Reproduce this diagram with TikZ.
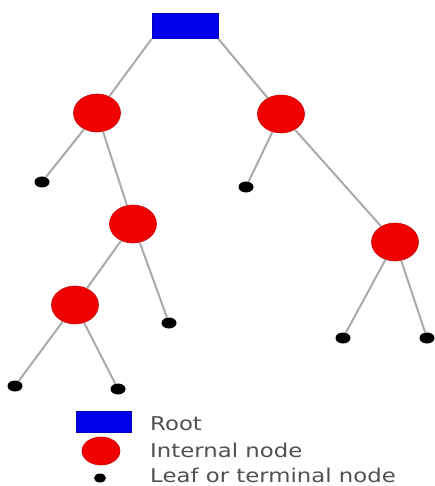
\documentclass[tikz,border=0pt]{standalone}
\usepackage{fontspec}
\setsansfont{DejaVu Sans}
\usetikzlibrary{positioning}
\usetikzlibrary{shapes.geometric}
\definecolor{rootblue}{RGB}{0,0,235}
\definecolor{nodered}{RGB}{240,0,0}
\definecolor{edgegray}{RGB}{170,170,170}
\definecolor{textgray}{RGB}{80,80,80}
\tikzset{
	rootnode/.style={
		rectangle,
		fill=rootblue,
		draw=rootblue!80!black,
		line width=.5pt,
		minimum width=66pt,
		minimum height=25pt,
		inner sep=0pt
	},
	internal/.style={
		ellipse,
		fill=nodered,
		draw=nodered!85!black,
		line width=.6pt,
		minimum width=47pt,
		minimum height=38pt,
		inner sep=0pt
	},
	leaf/.style={
		ellipse,
		fill=black,
		minimum width=15pt,
		minimum height=11pt,
		inner sep=0pt
	},
	edge/.style={
		draw=edgegray,
		line width=2pt
	},
	legendtext/.style={
		anchor=base west,
		inner sep=0pt,
		text=textgray,
		font=\sffamily\fontsize{19}{21}\selectfont,
		xscale=1.2,
		transform shape
	}
}

\begin{document}
\begin{tikzpicture}[x=1pt,y=1pt]
	\useasboundingbox (0,0) rectangle (434,-486);
	% tree
	\node[rootnode] (Root) at (185,-26) {};
	\node[internal] (IntA) at (97,-113) {};
	\node[internal] (IntB) at (281,-114) {};
	\node[internal] (IntC) at (133,-224) {};
	\node[internal] (IntD) at (395,-242) {};
	\node[internal] (IntE) at (75,-305) {};
	\node[leaf] (LeafA) at (42,-182) {};
	\node[leaf] (LeafB) at (246,-187) {};
	\node[leaf] (LeafC) at (169,-323) {};
	\node[leaf] (LeafD1) at (343,-338) {};
	\node[leaf] (LeafD2) at (427,-338) {};
	\node[leaf] (LeafE1) at (15,-386) {};
	\node[leaf] (LeafE2) at (118,-389) {};

	\draw[edge] (Root.south west) -- (IntA);
	\draw[edge] (Root.south east) -- (IntB);
	\draw[edge] (IntA) -- (LeafA);
	\draw[edge] (IntA) -- (IntC);
	\draw[edge] (IntB) -- (LeafB);
	\draw[edge] (IntB) -- (IntD);
	\draw[edge] (IntC) -- (IntE);
	\draw[edge] (IntC) -- (LeafC);
	\draw[edge] (IntD) -- (LeafD1);
	\draw[edge] (IntD) -- (LeafD2);
	\draw[edge] (IntE) -- (LeafE1);
	\draw[edge] (IntE) -- (LeafE2);

	% legend
	\node[rootnode, minimum width=55pt, minimum height=21pt] (KeyRoot) at (104,-422) {};
	\node[internal, minimum width=38pt, minimum height=28pt] (KeyInt) at (101,-451) {};
	\node[leaf, minimum width=12pt, minimum height=9pt] (KeyLeaf) at (100,-478) {};
	\node[legendtext] (KeyRootText) at (150,-430) {Root};
	\node[legendtext] (KeyIntText) at (150,-457) {Internal node};
	\node[legendtext] (KeyLeafText) at (150,-482) {Leaf or terminal node};
\end{tikzpicture}
\end{document}
